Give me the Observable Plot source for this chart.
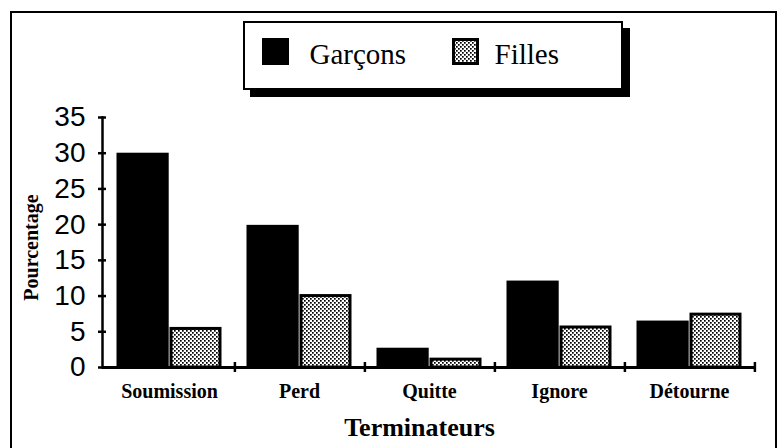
<!DOCTYPE html>
<html><head><meta charset="utf-8">
<script src="https://cdn.jsdelivr.net/npm/d3@7"></script>
<script src="https://cdn.jsdelivr.net/npm/@observablehq/plot@0.6"></script>
<style>
body{margin:0;background:#fff;}
#wrap{position:relative;width:781px;height:448px;overflow:hidden;background:#fff;}
#chart{position:absolute;left:0;top:100px;}
#frame{position:absolute;left:10px;top:11px;width:763px;height:470px;border:2.5px solid #000;pointer-events:none;}
#legend{position:absolute;left:243px;top:21px;width:376px;height:65px;border:2.5px solid #000;background:#fff;box-shadow:7px 7px 0 #000;font-family:"Liberation Serif",serif;font-size:29px;}
#legend .sw{position:absolute;top:14.5px;width:27px;height:27px;}
#legend .lt{position:absolute;top:17px;line-height:1;}
</style></head>
<body>
<svg width="0" height="0" style="position:absolute">
  <defs>
    <pattern id="dots" width="4" height="4" patternUnits="userSpaceOnUse">
      <rect width="4" height="4" fill="#fff"/>
      <rect x="0" y="0" width="1.7" height="1.7" fill="#000"/>
      <rect x="2" y="2" width="1.7" height="1.7" fill="#000"/>
    </pattern>
  </defs>
</svg>
<div id="wrap">
  <div id="chart"></div>
  <div id="frame"></div>
  <div id="legend"></div>
</div>
<script>
const categories = ["Soumission", "Perd", "Quitte", "Ignore", "Détourne"];
const series = ["Garçons", "Filles"];
const garcons = [30, 19.9, 2.7, 12.1, 6.5];
const filles = [5.4, 10, 1.1, 5.6, 7.4];
const yTicks = [0, 5, 10, 15, 20, 25, 30, 35];
const xTitle = "Terminateurs";
const yTitle = "Pourcentage";

const rows = categories.flatMap((c, i) => [
  {cat: c, serie: series[0], v: garcons[i]},
  {cat: c, serie: series[1], v: filles[i]}
]);

const W = 781, ML = 102, MR = 25;
const step = (W - ML - MR) / categories.length;

const plot = Plot.plot({
  width: W, height: 348,
  marginLeft: ML, marginRight: MR, marginTop: 17, marginBottom: 81,
  style: {background: "transparent", overflow: "visible"},
  x: {domain: categories, padding: 0, axis: null},
  y: {domain: [0, 35], axis: null},
  marks: [
    Plot.barY(rows.filter(d => d.serie === series[0]), {x: "cat", y: "v", fill: "#000", insetLeft: 12.5, insetRight: step - 12.5 - 53}),
    Plot.barY(rows.filter(d => d.serie === series[1]), {x: "cat", y: "v", fill: "url(#dots)", stroke: "#000", strokeWidth: 3, insetLeft: 67, insetRight: 14}),
    Plot.ruleY([0], {strokeWidth: 3}),
    Plot.frame({anchor: "left", strokeWidth: 2.5}),
    Plot.ruleX(categories, {x: d => d, y1: 0, y2: 0, insetTop: -5, insetBottom: -5, dx: step / 2, strokeWidth: 2.5}),
    Plot.axisY(yTicks, {tickSize: 8, dx: 4, tickFormat: () => "", strokeWidth: 2.5, label: null}),
    Plot.axisY(yTicks, {tickSize: 0, tickPadding: 17, fontSize: 28, fontFamily: "Liberation Sans", label: null}),
    Plot.axisX({tickSize: 0, tickPadding: 16, fontSize: 20, fontWeight: "bold", fontFamily: "Liberation Serif", label: null}),
    Plot.text([yTitle], {text: d => d, frameAnchor: "left", textAnchor: "middle", lineAnchor: "middle", dx: -71, dy: 5, rotate: -90, fontSize: 20, fontWeight: "bold", fontFamily: "Liberation Serif", fill: "#000"}),
    Plot.text([xTitle], {text: d => d, frameAnchor: "bottom", textAnchor: "middle", lineAnchor: "middle", dy: 60, dx: -10, fontSize: 26, fontWeight: "bold", fontFamily: "Liberation Serif", fill: "#000"})
  ]
});
document.getElementById("chart").appendChild(plot);

const legend = document.getElementById("legend");
const swatchFill = ["#000", "url(#dots)"];
const swLeft = [16.5, 206.5];
const txLeft = [64.5, 249.5];
series.forEach((s, i) => {
  const sw = document.createElementNS("http://www.w3.org/2000/svg", "svg");
  sw.setAttribute("class", "sw");
  sw.setAttribute("width", 27); sw.setAttribute("height", 27);
  sw.style.left = swLeft[i] + "px";
  sw.innerHTML = `<rect x="1.5" y="1.5" width="24" height="24" fill="${swatchFill[i]}" stroke="#000" stroke-width="3"/>`;
  legend.appendChild(sw);
  const t = document.createElement("span");
  t.className = "lt";
  t.style.left = txLeft[i] + "px";
  t.textContent = s;
  legend.appendChild(t);
});
</script>
</body></html>
